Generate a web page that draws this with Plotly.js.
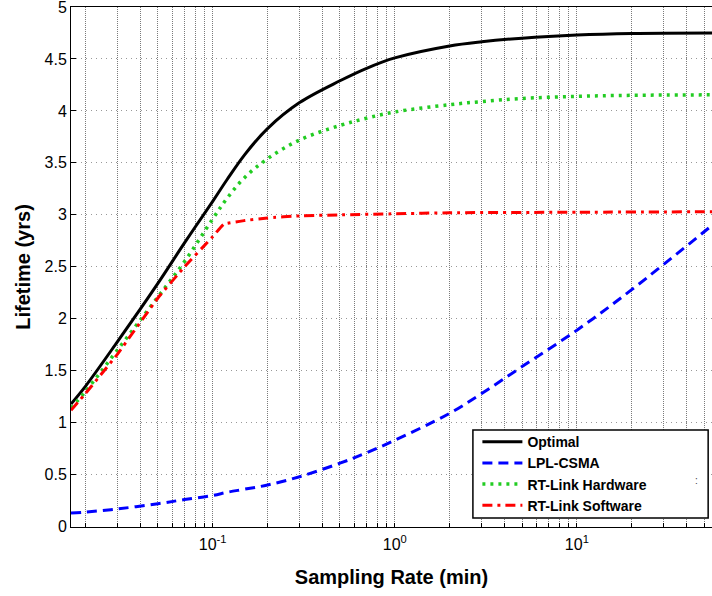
<!DOCTYPE html>
<html>
<head>
<meta charset="utf-8">
<script src="https://cdn.plot.ly/plotly-3.0.1.min.js"></script>
<style>html,body{margin:0;padding:0;background:#fff;}#chart{width:712px;height:596px;}</style>
</head>
<body>
<div id="chart"></div>
<script>
// Sampling rate (minutes)
const samplingRate = [1/60, 0.02, 0.03, 0.05, 0.07, 0.1, 0.12, 0.15, 0.2, 0.3, 0.5, 0.7, 1, 2, 3, 5, 10, 20, 60];
const optimal      = [1.18, 1.35, 1.78, 2.34, 2.73, 3.13, 3.34, 3.58, 3.83, 4.08, 4.29, 4.41, 4.51, 4.625, 4.665, 4.70, 4.73, 4.745, 4.75];
const lplCsma      = [0.13, 0.14, 0.17, 0.22, 0.26, 0.30, 0.33, 0.36, 0.40, 0.48, 0.61, 0.71, 0.83, 1.09, 1.28, 1.54, 1.89, 2.28, 2.95];
const rtHardware   = [1.14, 1.30, 1.70, 2.21, 2.55, 2.96, 3.16, 3.36, 3.54, 3.72, 3.86, 3.93, 3.99, 4.06, 4.09, 4.12, 4.14, 4.15, 4.155];
const rtSwRate     = [1/60, 0.02, 0.03, 0.05, 0.07, 0.1, 0.115, 0.15, 0.2, 0.3, 0.5, 1, 2, 10, 60];
const rtSoftware   = [1.12, 1.28, 1.66, 2.20, 2.50, 2.79, 2.91, 2.945, 2.97, 2.99, 3.00, 3.01, 3.02, 3.025, 3.03];

const decadeVals = [0.1, 1, 10];
const decadeText = ['10<sup>-1</sup>', '10<sup>0</sup>', '10<sup>1</sup>'];
const minorMult  = [2, 3, 4, 5, 6, 7, 8, 9];
const decades    = [0.01, 0.1, 1, 10];
const yTicks     = [0, 0.5, 1, 1.5, 2, 2.5, 3, 3.5, 4, 4.5, 5];
const yTickText  = ['0', '0.5', '1', '1.5', '2', '2.5', '3', '3.5', '4', '4.5', '5'];

// minor tick positions (2..9 x each decade)
const xMinorVals = [];
decades.forEach(d => minorMult.forEach(m => xMinorVals.push(d * m)));

const FONT = 'Liberation Sans, Arial, sans-serif';

const traces = [
  {x: samplingRate, y: optimal, name: 'Optimal', mode: 'lines',
   line: {color: '#000000', width: 3, shape: 'spline', smoothing: 1}},
  {x: samplingRate, y: lplCsma, name: 'LPL-CSMA', mode: 'lines',
   line: {color: '#0000ff', width: 3, dash: '10px,6px', shape: 'spline', smoothing: 1}},
  {x: samplingRate, y: rtHardware, name: 'RT-Link Hardware', mode: 'lines',
   line: {color: '#22cc22', width: 3.5, dash: '3px,5px', shape: 'spline', smoothing: 1}},
  {x: rtSwRate, y: rtSoftware, name: 'RT-Link Software', mode: 'lines',
   line: {color: '#ff0000', width: 3, dash: '10px,5px,3px,5px', shape: 'spline', smoothing: 0.3}}
];

const layout = {
  width: 712, height: 596,
  margin: {l: 71, r: 0, t: 7, b: 69},
  paper_bgcolor: '#ffffff', plot_bgcolor: '#ffffff',
  font: {family: FONT, color: '#000', size: 16},
  showlegend: true,
  legend: {
    x: 0.634, y: 0.194, xanchor: 'left', yanchor: 'top',
    bgcolor: 'rgba(0,0,0,0)', borderwidth: 0,
    font: {family: FONT, size: 14, color: '#000', weight: 'bold'},
    tracegroupgap: 0, itemwidth: 40
  },
  shapes: [
    {type: 'rect', xref: 'paper', yref: 'paper', x0: 0.627, x1: 0.994, y0: 0.0173, y1: 0.1865,
     fillcolor: '#ffffff', line: {color: '#000', width: 1.5}, layer: 'above'}
  ],
  annotations: [
    {xref: 'paper', yref: 'paper', x: 0.981, y: 0.075, text: ':', showarrow: false,
     font: {family: FONT, size: 10, color: '#444'}}
  ],
  xaxis: {
    type: 'log', range: [Math.log10(1/60), 1.742],
    tickmode: 'array', tickvals: decadeVals, ticktext: decadeText,
    ticks: 'inside', ticklen: 4, tickcolor: '#000',
    showgrid: true, gridcolor: '#7a7a7a', griddash: '1px,1px', gridwidth: 1,
    minor: {tickmode: 'array', tickvals: xMinorVals, ticks: 'inside', ticklen: 4, tickcolor: '#000',
            showgrid: true, gridcolor: '#7a7a7a', griddash: '1px,1px', gridwidth: 1},
    showline: true, linecolor: '#000', linewidth: 1, mirror: true,
    zeroline: false, tickfont: {family: FONT, size: 16}, ticklabelstandoff: 3,
    ticklabeloverflow: 'allow',
    title: {text: 'Sampling Rate (min)', font: {family: FONT, size: 20, weight: 'bold'}, standoff: 17}
  },
  yaxis: {
    range: [-0.004, 5], tickmode: 'array', tickvals: yTicks, ticktext: yTickText,
    ticks: 'inside', ticklen: 5, tickcolor: '#000',
    showgrid: true, gridcolor: '#999999', griddash: '1px,4px', gridwidth: 1,
    showline: true, linecolor: '#000', linewidth: 1, mirror: false,
    zeroline: false, tickfont: {family: FONT, size: 16},
    ticklabeloverflow: 'allow',
    title: {text: 'Lifetime (yrs)', font: {family: FONT, size: 20, weight: 'bold'}, standoff: 8}
  }
};

Plotly.newPlot('chart', traces, layout, {displayModeBar: false, staticPlot: true});
</script>
</body>
</html>
